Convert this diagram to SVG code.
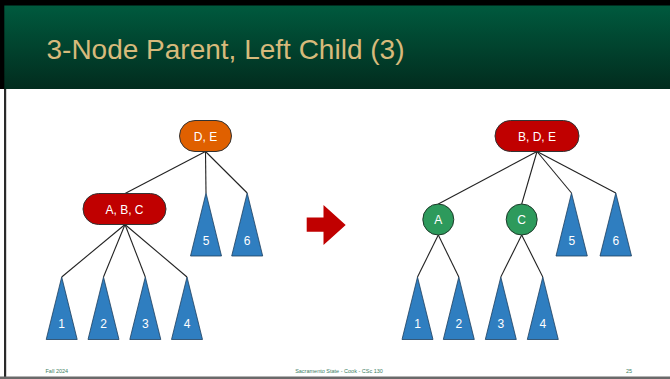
<svg xmlns="http://www.w3.org/2000/svg" width="670" height="379" viewBox="0 0 670 379">
  <defs>
    <linearGradient id="hdr" x1="0" y1="0" x2="0" y2="1">
      <stop offset="0" stop-color="#005a3e"/>
      <stop offset="1" stop-color="#022c1e"/>
    </linearGradient>
    <style>
      .edge { stroke: #222; stroke-width: 1.1; fill: none; }
      .tri { fill: #2f7ec0; stroke: #1d3f5e; stroke-width: 0.8; }
      .lbl { font-family: "Liberation Sans", Arial, sans-serif; fill: #ffffff; text-anchor: middle; }
      .node { font-size: 12px; }
      .num { font-size: 12px; }
      .pill { stroke: #333; stroke-width: 1; }
      .foot { font-family: "Liberation Sans", Arial, sans-serif; font-size: 5.5px; fill: #3d8064; }
    </style>
  </defs>

  <!-- slide frame and header -->
  <rect x="0" y="0" width="670" height="379" fill="#ffffff"/>
  <rect x="0" y="5" width="670" height="84" fill="url(#hdr)"/>
  <rect x="0" y="0" width="670" height="5.5" fill="#000000"/>
  <rect x="0" y="0" width="4.3" height="89" fill="#000000"/>
  <rect x="4" y="89" width="2.2" height="289" fill="#2a2a2a"/>
  <rect x="0" y="376.5" width="670" height="2.5" fill="#6a6a6a"/>
  <text x="46.5" y="58.5" font-family="'Liberation Sans', Arial, sans-serif" font-size="28" fill="#d7ba7b">3-Node Parent, Left Child (3)</text>

  <!-- connectors -->
  <g id="connectors">
    <line class="edge" x1="205.5" y1="151.5" x2="125" y2="193.5"/>
    <line class="edge" x1="205.5" y1="151.5" x2="206" y2="193"/>
    <line class="edge" x1="205.5" y1="151.5" x2="247.2" y2="193"/>
    <line class="edge" x1="125" y1="224.5" x2="61.7" y2="277"/>
    <line class="edge" x1="125" y1="224.5" x2="103.5" y2="277"/>
    <line class="edge" x1="125" y1="224.5" x2="145.3" y2="277"/>
    <line class="edge" x1="125" y1="224.5" x2="187" y2="277"/>

    <line class="edge" x1="537" y1="151.5" x2="438.3" y2="204"/>
    <line class="edge" x1="537" y1="151.5" x2="521.7" y2="204"/>
    <line class="edge" x1="537" y1="151.5" x2="571.5" y2="193"/>
    <line class="edge" x1="537" y1="151.5" x2="615.8" y2="193"/>
    <line class="edge" x1="438.3" y1="235" x2="417.5" y2="277"/>
    <line class="edge" x1="438.3" y1="235" x2="458.8" y2="277"/>
    <line class="edge" x1="521.7" y1="235" x2="500.8" y2="277"/>
    <line class="edge" x1="521.7" y1="235" x2="542.8" y2="277"/>
  </g>

  <!-- left tree -->
  <g id="n-de">
    <rect class="pill" x="179.5" y="120.5" width="52" height="31" rx="15.5" fill="#e06000"/>
    <text class="lbl node" x="205.5" y="140.5">D, E</text>
  </g>
  <g id="n-abc">
    <rect class="pill" x="83" y="193.5" width="83" height="31" rx="15.5" fill="#c00000"/>
    <text class="lbl node" x="124.5" y="213.5">A, B, C</text>
  </g>
  <g id="l-t1"><polygon class="tri" points="61.7,277 77.2,339.5 46.2,339.5"/><text class="lbl num" x="61.7" y="328">1</text></g>
  <g id="l-t2"><polygon class="tri" points="103.5,277 119,339.5 88,339.5"/><text class="lbl num" x="103.5" y="328">2</text></g>
  <g id="l-t3"><polygon class="tri" points="145.3,277 160.8,339.5 129.8,339.5"/><text class="lbl num" x="145.3" y="328">3</text></g>
  <g id="l-t4"><polygon class="tri" points="187,277 202.5,339.5 171.5,339.5"/><text class="lbl num" x="187" y="328">4</text></g>
  <g id="l-t5"><polygon class="tri" points="206,193 221.5,256 190.5,256"/><text class="lbl num" x="206" y="244.5">5</text></g>
  <g id="l-t6"><polygon class="tri" points="247.2,193 262.7,256 231.7,256"/><text class="lbl num" x="247.2" y="244.5">6</text></g>

  <!-- transformation arrow -->
  <g id="arrow">
    <polygon points="306.7,217.5 323.5,217.5 323.5,205 345.7,225 323.5,245 323.5,231.7 306.7,231.7" fill="#c00000"/>
  </g>

  <!-- right tree -->
  <g id="n-bde">
    <rect class="pill" x="495" y="120.5" width="84" height="31" rx="15.5" fill="#c00000"/>
    <text class="lbl node" x="537" y="140.5">B, D, E</text>
  </g>
  <g id="n-a">
    <circle cx="438.3" cy="219.5" r="15.5" fill="#2d9a5c" stroke="#1e3a2a" stroke-width="1"/>
    <text class="lbl node" x="438.3" y="223.8">A</text>
  </g>
  <g id="n-c">
    <circle cx="521.7" cy="219.5" r="15.5" fill="#2d9a5c" stroke="#1e3a2a" stroke-width="1"/>
    <text class="lbl node" x="521.7" y="223.8">C</text>
  </g>
  <g id="r-t1"><polygon class="tri" points="417.5,277 433,339.5 402,339.5"/><text class="lbl num" x="417.5" y="328">1</text></g>
  <g id="r-t2"><polygon class="tri" points="458.8,277 474.3,339.5 443.3,339.5"/><text class="lbl num" x="458.8" y="328">2</text></g>
  <g id="r-t3"><polygon class="tri" points="500.8,277 516.3,339.5 485.3,339.5"/><text class="lbl num" x="500.8" y="328">3</text></g>
  <g id="r-t4"><polygon class="tri" points="542.8,277 558.3,339.5 527.3,339.5"/><text class="lbl num" x="542.8" y="328">4</text></g>
  <g id="r-t5"><polygon class="tri" points="571.5,193 587.3,256 556,256"/><text class="lbl num" x="571.8" y="244.5">5</text></g>
  <g id="r-t6"><polygon class="tri" points="615.8,193 631.5,256 600,256"/><text class="lbl num" x="615.8" y="244.5">6</text></g>

  <!-- footer -->
  <text class="foot" x="45.5" y="372.5">Fall 2024</text>
  <text class="foot" x="339" y="372.5" text-anchor="middle">Sacramento State - Cook - CSc 130</text>
  <text class="foot" x="626" y="372.5">25</text>
</svg>
